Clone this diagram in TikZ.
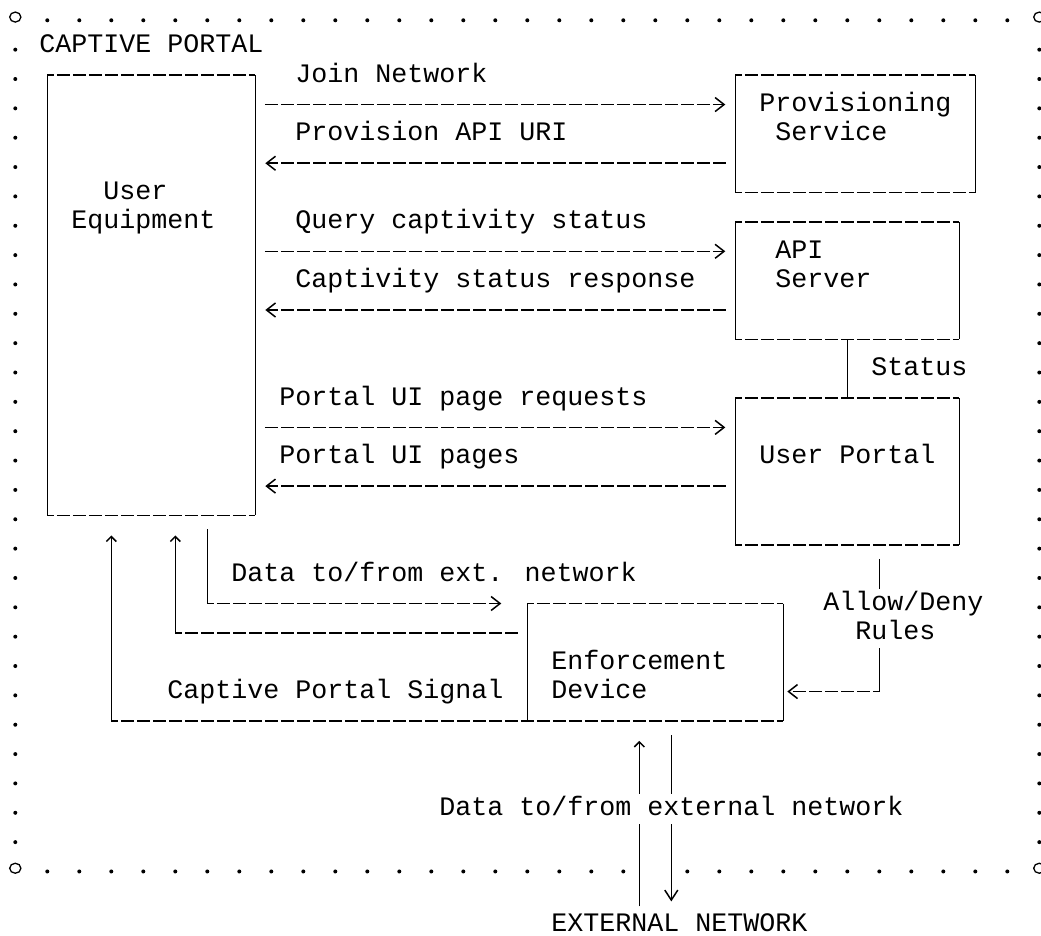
\documentclass[tikz,border=0pt]{standalone}
\usepackage{fontspec}
\newfontfamily\monof{Liberation Mono}
\usetikzlibrary{arrows.meta,fit}

\tikzset{
  ascii/.style={font=\monof\fontsize{26.67pt}{29.35pt}\selectfont},
  txt/.style={ascii, anchor=base west, inner sep=0pt, outer sep=0pt},
  cover/.style={txt, fill=white, text height=21.7pt, text depth=7.65pt},
  boxnode/.style={draw=none, rectangle, inner sep=0pt, outer sep=0pt},
  vl/.style={line width=1.5pt},
  hl/.style={line width=1.5pt, dash pattern=on 13pt off 3pt},
  hbox/.style={hl, dash phase=6.5pt},
  tipR/.style={-{Straight Barb[length=9pt,width=14pt]}},
  caret/.style={-{Straight Barb[length=5pt,width=10pt]}},
  vtip/.style={-{Straight Barb[length=10pt,width=13pt]}},
  portaldot/.style={fill=black},
  portalcorner/.style={draw=black, line width=1.3pt},
}

\newcommand\drawasciibox[1]{%
  \draw[hbox] (#1.north west) -- (#1.north east);
  \draw[hbox] (#1.south west) -- (#1.south east);
  \draw[vl] (#1.north west) -- (#1.south west);
  \draw[vl] (#1.north east) -- (#1.south east);}

\begin{document}
\begin{tikzpicture}[x=16pt, y=-29.35pt]
\path[fill=white, use as bounding box] (-0.956,-0.562) rectangle (64.106,31.295);

% helper coordinates (rows and columns of the grid)
\foreach \r in {3,5,8,10,14,16,20,21,23,24} \coordinate (r\r) at (0,\r);
\foreach \c in {6,10,12,39,41,52,54} \coordinate (c\c) at (\c,0);

% captive portal boundary
\foreach \c in {2,4,...,62} \fill[portaldot] (\c,0.13) circle (2pt);
\foreach \c in {2,4,...,38} \fill[portaldot] (\c,29.13) circle (2pt);
\foreach \c in {42,44,...,62} \fill[portaldot] (\c,29.13) circle (2pt);
\foreach \r in {1,...,28} {
  \fill[portaldot] (0,\r+0.13) circle (2pt);
  \fill[portaldot] (64,\r+0.13) circle (2pt);
}
\foreach \p in {(0,0.02),(64,0.02),(0,29.02),(64,29.02)}
  \draw[portalcorner] \p ellipse (5.6pt and 5pt);

% boxes
\node[boxnode, fit={(2,2) (15,17)}] (UE) {};
\node[boxnode, fit={(45,2) (60,6)}] (PS) {};
\node[boxnode, fit={(45,7) (59,11)}] (API) {};
\node[boxnode, fit={(45,13) (59,18)}] (UP) {};
\node[boxnode, fit={(32,20) (48,24)}] (ED) {};
\drawasciibox{UE}
\drawasciibox{PS}
\drawasciibox{API}
\drawasciibox{UP}
\drawasciibox{ED}

% box texts
\node[txt] (tCP) at (1.5,1.2385) {CAPTIVE PORTAL};
\node[txt] (tUE1) at (5.5,6.2385) {User};
\node[txt] (tUE2) at (3.5,7.2385) {Equipment};
\node[txt] (tPS1) at (46.5,3.2385) {Provisioning};
\node[txt] (tPS2) at (47.5,4.2385) {Service};
\node[txt] (tAPI1) at (47.5,8.2385) {API};
\node[txt] (tAPI2) at (47.5,9.2385) {Server};
\node[txt] (tUP) at (46.5,15.2385) {User Portal};
\node[txt] (tED1) at (33.5,22.2385) {Enforcement};
\node[txt] (tED2) at (33.5,23.2385) {Device};
\node[txt] (EN) at (33.5,31.158) {EXTERNAL NETWORK};

% UE <-> Provisioning Service
\draw[hl, tipR, shorten <=9.5pt, shorten >=10pt] (UE.east |- r3) -- (PS.west |- r3);
\draw[hl, tipR, shorten <=9.5pt, shorten >=10pt] (PS.west |- r5) -- (UE.east |- r5);
% UE <-> API Server
\draw[hl, tipR, shorten <=9.5pt, shorten >=10pt] (UE.east |- r8) -- (API.west |- r8);
\draw[hl, tipR, shorten <=9.5pt, shorten >=10pt] (API.west |- r10) -- (UE.east |- r10);
% UE <-> User Portal
\draw[hl, tipR, shorten <=9.5pt, shorten >=10pt] (UE.east |- r14) -- (UP.west |- r14);
\draw[hl, tipR, shorten <=9.5pt, shorten >=10pt] (UP.west |- r16) -- (UE.east |- r16);

% API Server -- User Portal (Status)
\draw[vl] (API.south -| c52) -- (UP.north -| c52);

% User Portal -> Enforcement Device (Allow/Deny Rules)
\coordinate (adCorner) at (54,23);
\draw[vl, shorten <=14pt] (UP.south -| c54) -- (adCorner);
\draw[hbox, tipR, shorten >=4pt] (adCorner) -- (ED.east |- r23);

% Enforcement Device -> UE (Captive Portal Signal)
\coordinate (cpsCorner) at (6,24);
\draw[hbox] (ED.south west) -- (cpsCorner);
\draw[vl, caret, shorten >=20pt] (cpsCorner) -- (UE.south -| c6);

% Enforcement Device -> UE (data from ext. network)
\coordinate (dinCorner) at (10,21);
\draw[hl, shorten <=9.5pt] (ED.west |- r21) -- (dinCorner);
\draw[vl, caret, shorten >=20pt] (dinCorner) -- (UE.south -| c10);

% UE -> Enforcement Device (data to ext. network)
\coordinate (doutCorner) at (12,20);
\draw[vl, shorten <=14pt] (UE.south -| c12) -- (doutCorner);
\draw[hbox, tipR, shorten >=26pt] (doutCorner) -- (ED.north west);

% Enforcement Device <-> external network
\draw[vl, caret, shorten <=6.7pt, shorten >=20pt] (EN.north -| c39) -- (ED.south -| c39);
\draw[vl, vtip, shorten <=14.35pt, shorten >=11.7pt] (ED.south -| c41) -- (EN.north -| c41);

% connector labels
\node[txt] (lJoin) at (17.5,2.2385) {Join Network};
\node[txt] (lURI) at (17.5,4.2385) {Provision API URI};
\node[txt] (lQuery) at (17.5,7.2385) {Query captivity status};
\node[txt] (lResp) at (17.5,9.2385) {Captivity status response};
\node[txt] (lStatus) at (53.5,12.2385) {Status};
\node[txt] (lReq) at (16.5,13.2385) {Portal UI page requests};
\node[txt] (lPages) at (16.5,15.2385) {Portal UI pages};
\node[txt] (lData1) at (13.5,19.2385) {Data to/from ext. network};
\node[cover] (lAllow) at (50.5,20.2385) {Allow/Deny};
\node[cover] (lRules) at (52.5,21.2385) {Rules};
\node[txt] (lSignal) at (9.5,23.2385) {Captive Portal Signal};
\node[cover] (lData2) at (26.5,27.2385) {Data to/from external network};
\end{tikzpicture}
\end{document}
